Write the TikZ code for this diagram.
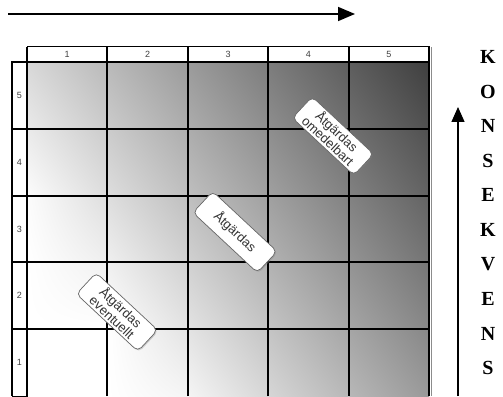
\documentclass[tikz,border=0pt]{standalone}
\usepackage{fontspec}
\setmainfont{Liberation Serif}
\newfontfamily\arialf{Liberation Sans}
\usetikzlibrary{arrows.meta,shadows,shadings}
\tikzset{
  gridline/.style={line width=2pt, black},
  headline/.style={line width=1pt, black},
  lbl/.style={draw=black!60, fill=white, rounded corners=5pt, line width=0.7pt,
    align=center, text=black!80, font=\arialf\fontsize{13}{13}\selectfont,
    minimum width=84pt, minimum height=29pt, inner sep=1pt,
    drop shadow={opacity=0.35, shadow xshift=1pt, shadow yshift=-1.2pt}},
  numlbl/.style={font=\arialf\fontsize{9}{9}\selectfont, text=black!75, inner sep=0pt},
  letter/.style={font=\bfseries\fontsize{20}{20}\selectfont, inner sep=0pt},
}
\begin{document}
\begin{tikzpicture}[x=1pt,y=1pt]
\useasboundingbox (0,0) rectangle (503,396);
\fill[white] (0,0) rectangle (503,396);
% shaded cells
\foreach \i in {0,...,4}{
  \foreach \j in {0,...,4}{
    \pgfmathsetmacro{\xa}{27+\i*80.4}
    \pgfmathsetmacro{\xb}{\xa+80.4}
    \pgfmathsetmacro{\ya}{\j*66.8}
    \pgfmathsetmacro{\yb}{\ya+66.8}
    \pgfmathsetmacro{\vll}{min(1,(306-0.38*(\xa-27)-0.27*\ya)/255)}
    \pgfmathsetmacro{\vlr}{min(1,(306-0.38*(\xb-27)-0.27*\ya)/255)}
    \pgfmathsetmacro{\vul}{min(1,(306-0.38*(\xa-27)-0.27*\yb)/255)}
    \pgfmathsetmacro{\vur}{min(1,(306-0.38*(\xb-27)-0.27*\yb)/255)}
    \definecolor{cll}{gray}{\vll}
    \definecolor{clr}{gray}{\vlr}
    \definecolor{cul}{gray}{\vul}
    \definecolor{cur}{gray}{\vur}
    \shade[lower left=cll, lower right=clr, upper left=cul, upper right=cur]
      (\xa,\ya) rectangle (\xb,\yb);
  }
}
% outer grey edge on the right
\draw[black!45, line width=1pt] (431,0) -- (431,349);
% header row
\draw[headline, fill=white] (27,334) rectangle (429,349);
% left column
\draw[headline, fill=white] (12,0) rectangle (27,334);
% grid lines
\foreach \x in {27,107.4,187.8,268.2,348.6,429}{
  \draw[gridline] (\x,0) -- (\x,349);
}
\draw[gridline] (12,0) -- (12,334.8);
\foreach \y in {66.8,133.6,200.4,267.2,334}{
  \draw[gridline] (11,\y) -- (430,\y);
}
% numbers
\foreach \n in {1,...,5}{
  \node[numlbl] (c\n) at (27+\n*80.4-40.2,342) {\n};
  \node[numlbl] (r\n) at (19.5,\n*66.8-33.4) {\n};
}
% labels
\node[lbl, rotate=-43] (l1) at (333,260) {Åtgärdas\\omedelbart};
\node[lbl, rotate=-43, minimum width=88pt] (l2) at (235,164) {Åtgärdas};
\node[lbl, rotate=-43] (l3) at (117,84) {Åtgärdas\\eventuellt};
% arrows
\coordinate (hs) at (8,382);
\coordinate (he) at (355,382);
\draw[line width=1.6pt, -{Triangle[length=17pt,width=14pt]}] (hs) -- (he);
\coordinate (vs) at (458,0);
\coordinate (ve) at (458,289);
\draw[line width=1.3pt, -{Triangle[length=15pt,width=13pt]}] (vs) -- (ve);
% letters
\foreach \c [count=\k from 0] in {K,O,N,S,E,K,V,E,N,S}{
  \node[letter] (k\k) at (488,339-\k*34.6) {\c};
}
\end{tikzpicture}
\end{document}
